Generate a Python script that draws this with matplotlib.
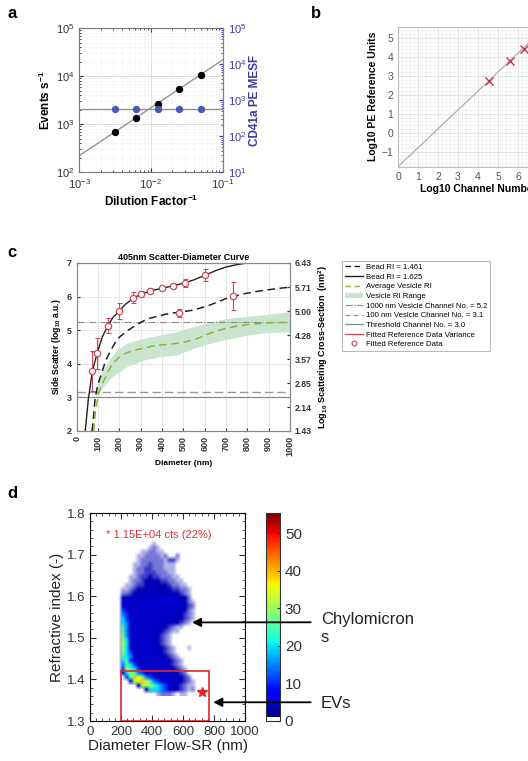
import numpy as np
import matplotlib
matplotlib.use('Agg')
import matplotlib.pyplot as plt
from matplotlib.colors import ListedColormap, Normalize
from matplotlib.patches import Rectangle, Patch, ConnectionPatch
from matplotlib.lines import Line2D
from matplotlib.cm import ScalarMappable
from matplotlib.ticker import AutoMinorLocator, MultipleLocator

plt.rcParams['font.family'] = ['Liberation Sans', 'DejaVu Sans']
plt.rcParams['mathtext.fontset'] = 'custom'
plt.rcParams['mathtext.rm'] = 'Liberation Sans'
plt.rcParams['mathtext.bf'] = 'Liberation Sans:bold'
plt.rcParams['mathtext.it'] = 'Liberation Sans:italic'
plt.rcParams['mathtext.default'] = 'regular'

# ---------------- data: panel a ----------------
dilution = [1/320, 1/160, 1/80, 1/40, 1/20]
events_per_s = [700, 1380, 2700, 5400, 10800]
cd41a_mesf = [575, 575, 575, 575, 575]
events_fit_slope = 2.2e5          # events = slope * dilution
mesf_mean = 575

# ---------------- data: panel b ----------------
log_channel = [4.55, 5.62, 6.28]
log_pe_units = [2.71, 3.77, 4.42]
pe_fit_slope = 1.0
pe_fit_intercept = -1.8

# ---------------- data: panel c ----------------
bead1625_d = [40, 55, 74, 96, 120, 146, 170, 198, 230, 266, 300, 342, 400, 452, 506, 550, 600,
              650, 700, 750, 800, 900, 1000]
bead1625_v = [2.0, 2.97, 3.79, 4.32, 4.80, 5.13, 5.38, 5.56, 5.78, 5.95, 6.07, 6.16, 6.25, 6.32,
              6.41, 6.50, 6.63, 6.77, 6.88, 6.95, 7.0, 7.08, 7.15]
bead1461_d = [72, 80, 86, 100, 117, 135, 156, 180, 203, 241, 266, 304, 340, 382, 420, 460, 500,
              547, 585, 625, 665, 703, 781, 860, 940, 1000]
bead1461_v = [2.0, 2.5, 2.97, 3.4, 3.72, 4.08, 4.36, 4.62, 4.81, 5.0, 5.1, 5.25, 5.35, 5.42, 5.48,
              5.52, 5.55, 5.6, 5.67, 5.75, 5.85, 5.95, 6.08, 6.17, 6.24, 6.28]
avg_ves_d = [80, 88, 102, 117, 133, 148, 164, 183, 203, 225, 250, 280, 313, 350, 391, 430, 469,
             508, 547, 585, 625, 664, 703, 742, 781, 820, 860, 900, 938, 1000]
avg_ves_v = [2.0, 2.6, 3.12, 3.37, 3.57, 3.78, 3.96, 4.1, 4.21, 4.3, 4.36, 4.42, 4.46, 4.52, 4.56,
             4.58, 4.61, 4.65, 4.71, 4.8, 4.91, 4.99, 5.06, 5.11, 5.15, 5.18, 5.2, 5.22, 5.23, 5.23]
range_d = [88, 100, 125, 156, 188, 234, 313, 390, 469, 547, 625, 703, 781, 860, 1000]
range_hi = [3.0, 3.45, 3.85, 4.15, 4.41, 4.61, 4.76, 4.86, 4.96, 5.1, 5.25, 5.35, 5.40, 5.45, 5.55]
range_lo = [3.0, 3.1, 3.32, 3.55, 3.72, 3.91, 4.11, 4.21, 4.26, 4.46, 4.61, 4.73, 4.83, 4.91, 4.96]
ref_d = [74, 96, 146, 198, 266, 300, 342, 400, 452, 478, 506, 600, 732]
ref_v = [3.79, 4.31, 5.13, 5.56, 5.97, 6.09, 6.18, 6.25, 6.32, 5.52, 6.40, 6.64, 6.02]
ref_err = [0.6, 0.45, 0.22, 0.24, 0.16, 0.08, 0.08, 0.05, 0.05, 0.12, 0.12, 0.17, 0.42]
ves1000_level = 5.24
ves100_level = 3.17
threshold_level = 3.0
right_ticks_c = [1.43, 2.14, 2.85, 3.57, 4.28, 5.00, 5.71, 6.43]

# ---------------- data: panel d (counts per 25 nm x 0.01 RI bin) ----------------
d_bin_edges = np.arange(175, 701, 25)      # diameter (nm)
ri_top, ri_bottom = 1.74, 1.36
density_rows = [   # from RI 1.74 (top) down to 1.36
    '.....' '.....' '.....' '.....' '.',
    '.....' '....a' '.....' '.....' '.',
    '.....' '...ab' 'a....' '.....' '.',
    '.....' '.aabb' 'aa...' '.....' '.',
    '.....' 'aabbb' 'bab..' 'b....' '.',
    '.....' 'abbbb' 'bbacc' 'a....' '.',
    '....a' 'abbcb' 'bbaaa' '.....' '.',
    '....a' 'bbccb' 'bbaaa' '.....' '.',
    '....a' 'bbccc' 'bbbaa' '.....' '.',
    '...aa' 'bccdc' 'cbbba' 'a....' '.',
    '...ab' 'bcddd' 'dccbb' 'aa...' '.',
    '..aab' 'ccddd' 'dddcb' 'baa..' '.',
    '.aabc' 'ddd11' '11ddc' 'cbba.' '.',
    '.bbcd' '11111' '111dd' 'dcba.' '.',
    '.3333' '33333' '33333' '32db.' '.',
    '.3333' '33333' '33333' '32dba' '.',
    '.3333' '33333' '33333' '32dcb' '.',
    '.4333' '33333' '33333' '22dba' '.',
    '.5433' '33333' '33332' '21cba' '.',
    '.6433' '33333' '33222' '1dcba' '.',
    '.6533' '33333' '3221d' 'dcba.' '.',
    '.7533' '33333' '21dcb' 'aa...' '.',
    '.7533' '33333' '1dcba' 'a....' '.',
    '.8533' '33332' 'dcba.' '.....' '.',
    '.8633' '33332' 'dcba.' '.....' '.',
    '.9633' '33333' 'dcba.' '.....' '.',
    '.8633' '33333' '2dcba' '...a.' '.',
    '.8643' '33333' '2dcba' '.....' '.',
    '.7653' '33333' '32dcb' 'a....' '.',
    '.6743' '33333' '332dc' 'ba...' '.',
    '.5764' '33333' '332dc' 'ba...' '.',
    '.4876' '43333' '3332d' 'cba..' '.',
    '.d687' '54333' '33332' 'dcb..' '.',
    '..47X' '98543' '33333' '3dcb.' '.',
    '...d8' '9X975' '43333' '3dcba' '.',
    '.....' 'd8887' '65433' '3cbaa' '.',
    '.....' '..d66' '65433' 'dcbab' '.',
    '.....' '.....' 'abbba' '.aa..' '.',
]
level_counts = {'.': 0, 'a': 0.8, 'b': 1.4, 'c': 2.0, 'd': 2.6, '1': 3.0, '2': 3.3, '3': 3.6,
                '4': 10, '5': 14, '6': 19, '7': 24, '8': 29, '9': 34, 'X': 39}
count_max = 55.3
gate_x = (200, 770)
gate_y = (1.3, 1.42)
star_pos = (720, 1.37)
gate_text = '* 1.15E+04 cts (22%)'

# ---------------- figure ----------------
W, H = 528, 761
fig = plt.figure(figsize=(W / 100, H / 100), dpi=100)


def box(l, t, r, b):
    return [l / W, 1 - b / H, (r - l) / W, (b - t) / H]


def fpos(x, y):
    return (x / W, 1 - y / H)


# ---------- panel a ----------
blue_a = '#3c3c9c'
ax_a = fig.add_axes(box(79, 28.3, 222.7, 172.3))
ax_a.set_xscale('log')
ax_a.set_yscale('log')
ax_a.set_xlim(1e-3, 1e-1)
ax_a.set_ylim(1e2, 1e5)
ax_a.grid(True, which='major', color='#d8d8d8', lw=0.6)
ax_a.grid(True, which='minor', color='#e6e6e6', lw=0.5, ls=':')
xf = np.logspace(-3, -1, 50)
ax_a.plot(xf, events_fit_slope * xf, color='#8c8c8c', lw=0.9, zorder=2)
ax_a.plot(dilution, events_per_s, 'o', color='black', ms=4.3, zorder=3)
ax_a.set_ylabel(r'Events s$^{\mathbf{-1}}$', fontsize=8.5, fontweight='bold', labelpad=2)
ax_a.set_xlabel(r'Dilution Factor$^{\mathbf{-1}}$', fontsize=8.5, fontweight='bold', labelpad=2)
ax_a.tick_params(which='both', direction='in', labelsize=8, colors='#333333', top=True)
ax_a.tick_params(which='major', length=3)
ax_a.tick_params(which='minor', length=1.5)
for s in ax_a.spines.values():
    s.set_color('#777777')
ax_a2 = ax_a.twinx()
ax_a2.set_yscale('log')
ax_a2.set_ylim(1e1, 1e5)
ax_a2.axhline(mesf_mean, color='#8c8c9c', lw=0.9, zorder=2)
ax_a2.plot(dilution, cd41a_mesf, 'o', color='#4a5ab0', ms=4.3, zorder=3)
ax_a2.set_ylabel('CD41a PE MESF', fontsize=8.5, fontweight='bold', color=blue_a, labelpad=2)
ax_a2.tick_params(which='both', direction='in', labelsize=8, colors=blue_a)
ax_a2.tick_params(which='major', length=3)
ax_a2.tick_params(which='minor', length=1.5)
ax_a2.spines['right'].set_color('#7a7aa8')
for k in ['left', 'top', 'bottom']:
    ax_a2.spines[k].set_visible(False)

# ---------- panel b ----------
ax_b = fig.add_axes(box(398, 26.7, 558, 166.7))
ax_b.set_xlim(0, 8)
ax_b.set_ylim(-1.8, 5.6)
ax_b.set_xticks(range(0, 9))
ax_b.set_yticks(range(-1, 6))
ax_b.xaxis.set_minor_locator(AutoMinorLocator(5))
ax_b.yaxis.set_minor_locator(AutoMinorLocator(5))
ax_b.grid(True, which='major', color='#dedede', lw=0.6)
ax_b.grid(True, which='minor', color='#ececec', lw=0.4)
xb = np.array([0, 8])
ax_b.plot(xb, pe_fit_slope * xb + pe_fit_intercept, color='#b0b0b0', lw=0.9)
ax_b.plot(log_channel, log_pe_units, 'x', color='#c23a4a', ms=6, mew=1.0)
ax_b.set_xlabel('Log10 Channel Number', fontsize=7.5, fontweight='bold', labelpad=2)
ax_b.set_ylabel('Log10 PE Reference Units', fontsize=7.5, fontweight='bold', labelpad=2)
ax_b.tick_params(which='both', direction='in', labelsize=7.5, colors='#555555', length=0)
for s in ax_b.spines.values():
    s.set_color('#bbbbbb')
ax_b.set_axisbelow(True)

# ---------- panel c ----------
red_c = '#d04858'
green_c = '#86b83a'
band_c = '#c9e4cf'
ax_c = fig.add_axes(box(76.7, 263, 290, 431))
ax_c.set_xlim(0, 1000)
ax_c.set_ylim(2, 7)
ax_c.set_xticks(range(0, 1001, 100))
ax_c.set_yticks(range(2, 8))
ax_c.grid(True, color='#e2e2e2', lw=0.6)
ax_c.set_axisbelow(True)
ax_c.fill_between(range_d, range_lo, range_hi, color=band_c, lw=0, zorder=1)
ax_c.axhline(ves1000_level, color='#8a8a8a', lw=0.8, ls='-.', zorder=2)
ax_c.axhline(ves100_level, color='#9a9a9a', lw=1.0, ls=(0, (6, 3)), zorder=2)
ax_c.axhline(threshold_level, color='#8a8a8a', lw=0.9, ls='-', zorder=2)
ax_c.plot(bead1461_d, bead1461_v, color='#222222', lw=1.1, ls=(0, (5, 3)), zorder=3)
ax_c.plot(bead1625_d, bead1625_v, color='#222222', lw=1.0, ls='-', zorder=3)
ax_c.plot(avg_ves_d, avg_ves_v, color=green_c, lw=1.1, ls=(0, (5, 3)), zorder=3)
ax_c.errorbar(ref_d, ref_v, yerr=ref_err, fmt='none', ecolor=red_c, elinewidth=0.8,
              capsize=1.8, capthick=0.8, zorder=4)
ax_c.plot(ref_d, ref_v, 'o', mfc='white', mec=red_c, mew=0.9, ms=4.5, zorder=5)
ax_c.set_title('405nm Scatter-Diameter Curve', fontsize=6.5, fontweight='bold', pad=2)
ax_c.set_xlabel('Diameter (nm)', fontsize=6, fontweight='bold', labelpad=3)
ax_c.set_ylabel(r'Side Scatter (log$_{\mathbf{10}}$ a.u.)', fontsize=6.2, fontweight='bold', labelpad=3)
ax_c.tick_params(direction='in', labelsize=6.5, colors='#333333', length=2)
ax_c.tick_params(axis='x', labelrotation=90)
for lab in ax_c.get_xticklabels() + ax_c.get_yticklabels():
    lab.set_fontweight('bold')
for s in ax_c.spines.values():
    s.set_color('#888888')
ax_c2 = ax_c.twinx()
ax_c2.set_ylim(right_ticks_c[0], right_ticks_c[-1])
ax_c2.set_yticks(right_ticks_c)
ax_c2.set_yticklabels(['%.2f' % t for t in right_ticks_c])
ax_c2.tick_params(direction='in', labelsize=6.2, colors='#333333', length=2)
for lab in ax_c2.get_yticklabels():
    lab.set_fontweight('bold')
ax_c2.set_ylabel(r'Log$_{\mathbf{10}}$ Scattering Cross-Section  (nm$^{\mathbf{2}}$)',
                 fontsize=6.5, fontweight='bold', labelpad=3)
for s in ax_c2.spines.values():
    s.set_color('#888888')

handles = [
    Line2D([], [], color='#222222', lw=1.0, ls=(0, (4, 2.5))),
    Line2D([], [], color='#222222', lw=1.0),
    Line2D([], [], color=green_c, lw=1.0, ls=(0, (4, 2.5))),
    Patch(facecolor=band_c, edgecolor='none'),
    Line2D([], [], color='#8a8a8a', lw=0.8, ls='-.'),
    Line2D([], [], color='#9a9a9a', lw=0.9, ls=(0, (4, 2.5))),
    Line2D([], [], color='#8a8a8a', lw=0.9),
    Line2D([], [], color=red_c, lw=0.9),
    Line2D([], [], color=red_c, lw=0, marker='o', mfc='white', mec=red_c, ms=3.5, mew=0.8),
]
labels = ['Bead RI = 1.461', 'Bead RI = 1.625', 'Average Vesicle RI', 'Vesicle RI Range',
          '1000 nm Vesicle Channel No. = 5.2', '100 nm Vesicle Channel No. = 3.1',
          'Threshold Channel No. = 3.0', 'Fitted Reference Data Variance', 'Fitted Reference Data']
leg = fig.legend(handles, labels, loc='upper left', bbox_to_anchor=fpos(342, 261),
                 bbox_transform=fig.transFigure, fontsize=5.6, frameon=True, fancybox=False,
                 edgecolor='#aaaaaa', handlelength=2.3, handletextpad=0.4, labelspacing=0.28,
                 borderpad=0.35, borderaxespad=0)
leg.get_frame().set_linewidth(0.8)

# ---------- panel d ----------
ax_d = fig.add_axes(box(90, 513, 245, 721))
jet = plt.get_cmap('jet')
norm_d = Normalize(0, count_max)
counts = np.array([[level_counts[ch] for ch in row] for row in density_rows], dtype=float)
rgba = jet(norm_d(np.maximum(counts, 2.6)))
rgba[..., 3] = np.clip(counts / 2.6, 0, 1)
ax_d.imshow(rgba, extent=(d_bin_edges[0], d_bin_edges[-1], ri_bottom, ri_top), origin='upper',
            aspect='auto', interpolation='bilinear', zorder=1)
ax_d.add_patch(Rectangle((gate_x[0], gate_y[0]), gate_x[1] - gate_x[0], gate_y[1] - gate_y[0],
                         fill=False, edgecolor='#e02828', lw=1.2, zorder=3))
ax_d.plot(*star_pos, marker='*', color='#e02828', ms=7, zorder=4)
ax_d.text(103, 1.747, gate_text, color='#d83030', fontsize=8, ha='left', va='center')
ax_d.set_xlim(0, 1000)
ax_d.set_ylim(1.3, 1.8)
ax_d.set_xticks(range(0, 1001, 200))
ax_d.set_yticks(np.round(np.arange(1.3, 1.81, 0.1), 1))
ax_d.xaxis.set_minor_locator(MultipleLocator(40))
ax_d.yaxis.set_minor_locator(MultipleLocator(0.02))
ax_d.tick_params(which='both', direction='in', top=True, right=True, labelsize=9.5,
                 colors='#333333')
ax_d.tick_params(which='major', length=4)
ax_d.tick_params(which='minor', length=2)
ax_d.set_xlabel('Diameter Flow-SR (nm)', fontsize=11, labelpad=1, color='#222222')
ax_d.set_ylabel('Refractive index (-)', fontsize=11, labelpad=2, color='#222222')

cax = fig.add_axes(box(265.7, 513.3, 280, 720.8))
cb_colors = np.vstack([np.ones((5, 4)), jet(np.linspace(0, 1, 251))])
cb = fig.colorbar(ScalarMappable(norm=norm_d, cmap=ListedColormap(cb_colors)), cax=cax)
cb.set_ticks(range(0, 51, 10))
cb.ax.tick_params(labelsize=11, colors='#333333', direction='in', length=2)
cb.outline.set_edgecolor('#333333')

# arrows / annotations
chylo_tip = (658, 1.537)
ev_tip = (795, 1.345)
for tip, ypx in [(chylo_tip, 622.3), (ev_tip, 702.3)]:
    con = ConnectionPatch(xyA=fpos(310.7, ypx), coordsA='figure fraction',
                          xyB=tip, coordsB=ax_d.transData,
                          arrowstyle='-|>', mutation_scale=13, color='black', lw=1.3,
                          shrinkA=0, shrinkB=0, zorder=10)
    fig.add_artist(con)
fig.text(*fpos(320.7, 612), 'Chylomicron\ns', fontsize=12, ha='left', va='top',
         color='#222222', linespacing=1.25)
fig.text(*fpos(320.7, 703.3), 'EVs', fontsize=12, ha='left', va='center', color='#222222')

# panel letters
for letter, x, y in [('a', 7, 18), ('b', 311, 18), ('c', 7, 257), ('d', 7, 498)]:
    fig.text(*fpos(x, y), letter, fontsize=12, fontweight='bold', ha='left', va='baseline')

fig.savefig('out.png', dpi=100)
